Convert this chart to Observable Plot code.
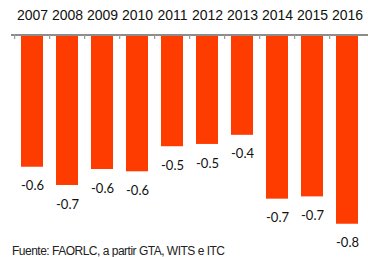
<!DOCTYPE html>
<html>
<head>
<meta charset="utf-8">
<script src="https://cdn.jsdelivr.net/npm/d3@7"></script>
<script src="https://cdn.jsdelivr.net/npm/@observablehq/plot@0.6"></script>
<style>
  html, body { margin: 0; padding: 0; background: white; }
  #wrap { position: relative; width: 368px; height: 257px; overflow: hidden; }
  #cap { position: absolute; left: 12px; top: 244px; font-family: "Liberation Sans", Arial, sans-serif; font-size: 12px; letter-spacing: -0.5px; color: #222; white-space: nowrap; }
  svg text.yr { letter-spacing: -0.9px; }
</style>
</head>
<body>
<div id="wrap"><div id="cap"></div></div>
<script>
const years = ["2007","2008","2009","2010","2011","2012","2013","2014","2015","2016"];
const values = [-0.58, -0.66, -0.59, -0.60, -0.49, -0.48, -0.44, -0.72, -0.71, -0.83];
const caption = "Fuente: FAORLC, a partir GTA, WITS e ITC";

const data = years.map((y, i) => ({year: y, value: values[i]}));
const W = 368, ML = 11, MR = 0;
const step = (W - ML - MR) / years.length;

const chart = Plot.plot({
  width: W,
  height: 257,
  marginTop: 34.5,
  marginBottom: 17.3,
  marginLeft: ML,
  marginRight: MR,
  style: {overflow: "visible", background: "white"},
  x: {domain: years, paddingInner: 0.38, paddingOuter: 0.19, axis: null},
  y: {domain: [-0.9, 0], axis: null},
  marks: [
    Plot.barY(data, {x: "year", y: "value", fill: "#ff3c00"}),
    Plot.ruleY([0], {stroke: "#8c8c8c", strokeWidth: 1.8}),
    Plot.ruleX(years, {x: d => d, dx: -step / 2, y1: 0, y2: -0.02, stroke: "#9a9a9a", strokeWidth: 1.2}),
    Plot.text(years, {x: d => d, y: 0, dy: -19, text: d => d, lineAnchor: "middle", fontSize: 14, fontWeight: "normal", className: "yr", fontFamily: "Liberation Sans, Arial, sans-serif", fill: "#111"}),
    Plot.text(data, {x: "year", y: "value", dy: 19, text: d => d3.format(".1f")(d.value).replace("−", "-"), lineAnchor: "middle", fontSize: 13, fontFamily: "Lato, sans-serif", fill: "#111"})
  ]
});
const wrap = document.getElementById("wrap");
wrap.insertBefore(chart, wrap.firstChild);
document.getElementById("cap").textContent = caption;
</script>
</body>
</html>
